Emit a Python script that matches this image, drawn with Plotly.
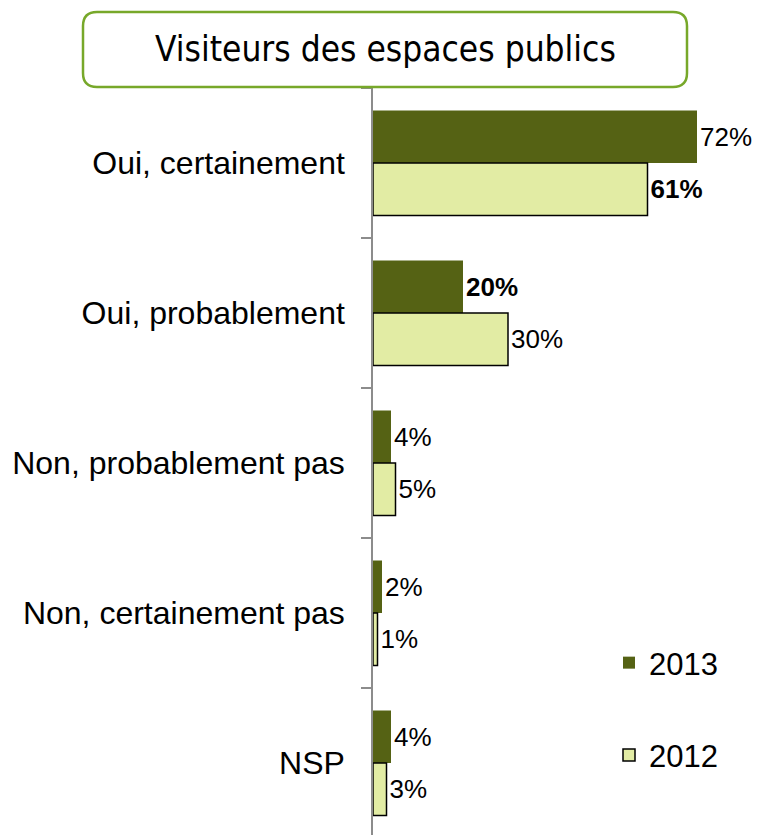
import plotly.graph_objects as go

# ---- data ----
categories = ["Oui, certainement", "Oui, probablement", "Non, probablement pas",
              "Non, certainement pas", "NSP"]
values_2013 = [72, 20, 4, 2, 4]
values_2012 = [61, 30, 5, 1, 3]
bold_2013 = [False, True, False, False, False]
bold_2012 = [True, False, False, False, False]
series_names = ["2013", "2012"]
title_text = "Visiteurs des espaces publics"

# ---- layout constants (pixels, in reference-page coordinates) ----
OFF = 8                      # page body margin
W, H = 762 - OFF, 835 - OFF
L, R, T, B = 373 - OFF, 2, 88 - OFF, 0
PX_PER_UNIT = 4.5
PW, PH = W - L - R, H - T - B


def xp(px):
    return (px - OFF - L) / PW


def yp(py):
    return (H - B - (py - OFF)) / PH


def labels(vals, bold):
    return [f"<b>{v}%</b>" if b else f"{v}%" for v, b in zip(vals, bold)]


C2013 = "#556214"
C2012 = "#e2eca4"
FONT = "Liberation Sans, Arial, sans-serif"

fig = go.Figure()
fig.add_trace(go.Bar(
    name=series_names[0], y=categories, x=values_2013, orientation="h",
    marker=dict(color=C2013, line=dict(width=0)),
    text=labels(values_2013, bold_2013), textposition="outside",
    textfont=dict(size=26, family=FONT, color="black"),
    cliponaxis=False, constraintext="none", legendgroup="a",
))
fig.add_trace(go.Bar(
    name=series_names[1], y=categories, x=values_2012, orientation="h",
    marker=dict(color=C2012, line=dict(width=1.5, color="black")),
    text=labels(values_2012, bold_2012), textposition="outside",
    textfont=dict(size=26, family=FONT, color="black"),
    cliponaxis=False, constraintext="none", legendgroup="b",
))

# rounded title box
x0, y0, x1, y1, r = 83, 12, 687, 87, 14
path = (f"M{xp(x0 + r)},{yp(y0)} L{xp(x1 - r)},{yp(y0)} "
        f"Q{xp(x1)},{yp(y0)} {xp(x1)},{yp(y0 + r)} "
        f"L{xp(x1)},{yp(y1 - r)} Q{xp(x1)},{yp(y1)} {xp(x1 - r)},{yp(y1)} "
        f"L{xp(x0 + r)},{yp(y1)} Q{xp(x0)},{yp(y1)} {xp(x0)},{yp(y1 - r)} "
        f"L{xp(x0)},{yp(y0 + r)} Q{xp(x0)},{yp(y0)} {xp(x0 + r)},{yp(y0)} Z")

fig.update_layout(
    width=W, height=H,
    margin=dict(l=L, r=R, t=T, b=B, pad=0),
    paper_bgcolor="white", plot_bgcolor="white",
    barmode="group", bargap=0.3, bargroupgap=0,
    showlegend=True,
    legend=dict(x=xp(609), y=yp(636), xanchor="left", yanchor="top",
                font=dict(size=31, family=FONT, color="black"),
                bgcolor="rgba(0,0,0,0)", tracegroupgap=49),
    xaxis=dict(range=[0, PW / PX_PER_UNIT], visible=False, showgrid=False,
               zeroline=False),
    yaxis=dict(type="category", range=[4.48, -0.5], showline=True,
               linecolor="#8c8c8c", linewidth=1.5, ticks="outside",
               tickson="boundaries", ticklen=10, tickcolor="#8c8c8c",
               tickwidth=1.5, showgrid=False, zeroline=False,
               tickfont=dict(size=32, family=FONT, color="black"),
               ticklabelstandoff=20),
    shapes=[dict(type="path", xref="paper", yref="paper", path=path,
                 line=dict(color="#77a82a", width=2.5), fillcolor="white",
                 layer="above")],
    annotations=[dict(text=title_text, xref="paper", yref="paper",
                      x=xp(385), y=yp(49), xanchor="center", yanchor="middle",
                      showarrow=False,
                      font=dict(size=35, family="DejaVu Sans Condensed, DejaVu Sans",
                                color="black"))],
)

fig.write_html("out.html")
